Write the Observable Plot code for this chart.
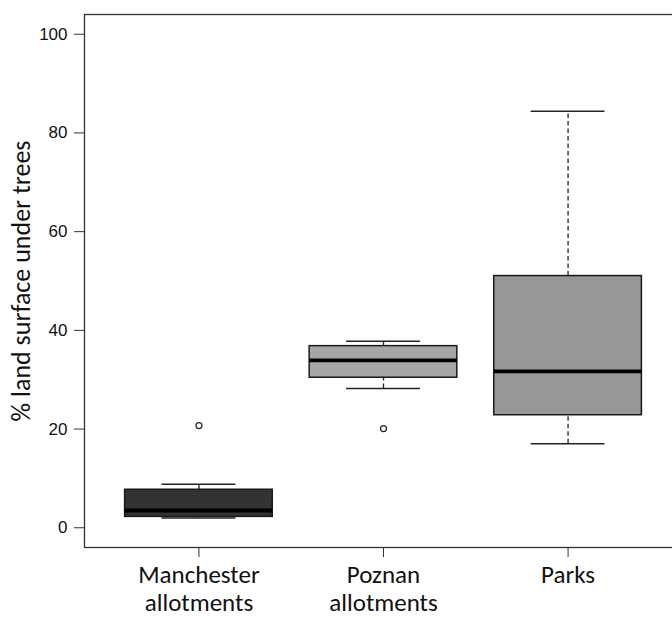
<!DOCTYPE html>
<html>
<head>
<meta charset="utf-8">
<script src="https://cdn.jsdelivr.net/npm/d3@7"></script>
<script src="https://cdn.jsdelivr.net/npm/@observablehq/plot@0.6"></script>
<style>
  html, body { margin: 0; padding: 0; background: #fff; }
  #chart svg { display: block; }
</style>
</head>
<body>
<div id="chart"></div>
<script>
const categories = ["Manchester\nallotments", "Poznan\nallotments", "Parks"];
const lowerWhisker = [2.0, 28.2, 17.0];
const lowerQuartile = [2.2, 30.4, 22.8];
const medianValue = [3.5, 33.9, 31.7];
const upperQuartile = [7.7, 36.8, 51.0];
const upperWhisker = [8.8, 37.8, 84.4];
const outlierCategory = ["Manchester\nallotments", "Poznan\nallotments"];
const outlierValue = [20.7, 20.1];
const yTicks = [0, 20, 40, 60, 80, 100];
const yLabel = "% land surface under trees";

const boxes = categories.map((c, i) => ({
  cat: c, pos: i + 1,
  lo: lowerWhisker[i], q1: lowerQuartile[i], med: medianValue[i],
  q3: upperQuartile[i], hi: upperWhisker[i]
}));
const outliers = outlierCategory.map((c, i) => ({pos: categories.indexOf(c) + 1, v: outlierValue[i]}));

const halfBox = 0.4, halfCap = 0.2;
const calibri = "Carlito, Calibri, Lato, sans-serif";
const arial = "'Liberation Sans', Arial, Helvetica, sans-serif";

const chart = Plot.plot({
  width: 672,
  height: 617,
  marginTop: 14,
  marginBottom: 70,
  marginLeft: 84,
  marginRight: -10,
  style: {fontFamily: arial, color: "#111"},
  x: {type: "linear", domain: [0.38, 3.62]},
  y: {domain: [-4, 104]},
  color: {domain: categories, range: ["#333333", "#a6a6a6", "#979797"]},
  marks: [
    Plot.ruleX(boxes, {x: "pos", y1: "q3", y2: "hi", stroke: "#222", strokeWidth: 1.3, strokeDasharray: "4.5,3"}),
    Plot.ruleX(boxes, {x: "pos", y1: "lo", y2: "q1", stroke: "#222", strokeWidth: 1.3, strokeDasharray: "4.5,3"}),
    Plot.ruleY(boxes, {y: "hi", x1: d => d.pos - halfCap, x2: d => d.pos + halfCap, stroke: "#222", strokeWidth: 1.5}),
    Plot.ruleY(boxes, {y: "lo", x1: d => d.pos - halfCap, x2: d => d.pos + halfCap, stroke: "#222", strokeWidth: 1.5}),
    Plot.rect(boxes, {x1: d => d.pos - halfBox, x2: d => d.pos + halfBox, y1: "q1", y2: "q3", fill: "cat", stroke: "#1a1a1a", strokeWidth: 1.5}),
    Plot.ruleY(boxes, {y: "med", x1: d => d.pos - halfBox, x2: d => d.pos + halfBox, stroke: "#000", strokeWidth: 3.8}),
    Plot.dot(outliers, {x: "pos", y: "v", r: 3, stroke: "#222", fill: "#fff", strokeWidth: 1.2}),
    Plot.frame({stroke: "#333", strokeWidth: 1.3}),
    Plot.axisY({ticks: yTicks, tickSize: 10, tickPadding: 7, fontSize: 17, fontFamily: arial, label: null, stroke: "#333"}),
    Plot.axisX({ticks: [1, 2, 3], tickFormat: d => categories[d - 1], tickSize: 10, tickPadding: 6, fontSize: 25, lineHeight: 1.12, fontFamily: calibri, label: null, stroke: "#333"}),
    Plot.text([yLabel], {frameAnchor: "left", rotate: -90, dx: -63, textAnchor: "middle", fontSize: 26, fontFamily: calibri, fill: "#111"})
  ]
});
document.getElementById("chart").appendChild(chart);
</script>
</body>
</html>
